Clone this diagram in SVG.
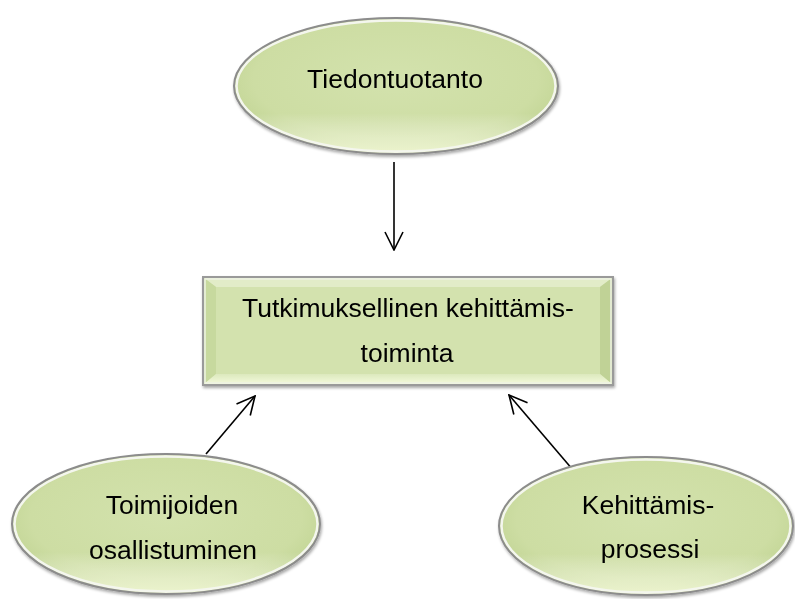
<svg xmlns="http://www.w3.org/2000/svg" width="795" height="599" viewBox="0 0 795 599">
  <defs>
    <radialGradient id="eg" cx="0.5" cy="0.45" r="0.55">
      <stop offset="0" stop-color="#d3e2ad"/>
      <stop offset="0.8" stop-color="#cddda3"/>
      <stop offset="1" stop-color="#c2d595"/>
    </radialGradient>
    <linearGradient id="hl" x1="0" y1="0" x2="0" y2="1">
      <stop offset="0" stop-color="#ffffff" stop-opacity="0"/>
      <stop offset="0.7" stop-color="#ffffff" stop-opacity="0"/>
      <stop offset="1" stop-color="#fbffe0" stop-opacity="0.75"/>
    </linearGradient>
    <linearGradient id="bot" x1="0" y1="0" x2="0" y2="1">
      <stop offset="0" stop-color="#dce9bd"/>
      <stop offset="1" stop-color="#f4f9dc"/>
    </linearGradient>
    <marker id="ah" viewBox="0 0 20 20" refX="19" refY="10" markerWidth="20" markerHeight="20" markerUnits="userSpaceOnUse" orient="auto">
      <path d="M1,1 L19,10 L1,19" fill="none" stroke="#000" stroke-width="1.6"/>
    </marker>
    <filter id="sh" x="-10%" y="-10%" width="120%" height="125%">
      <feGaussianBlur in="SourceAlpha" stdDeviation="1.5"/>
      <feOffset dx="1" dy="2"/>
      <feComponentTransfer><feFuncA type="linear" slope="0.35"/></feComponentTransfer>
      <feMerge><feMergeNode/><feMergeNode in="SourceGraphic"/></feMerge>
    </filter>
  </defs>
  <style>
    .lbl { font-family: "Liberation Sans", Arial, sans-serif; font-size: 26.5px; fill: #000; text-anchor: middle; }
    .rim { fill: none; stroke: #8c8c8c; stroke-width: 2; }
    .rimw { fill: none; stroke: #f4f6ee; stroke-width: 2.5; }
    .conn { stroke: #000; stroke-width: 1.6; fill: none; marker-end: url(#ah); }
  </style>
  <rect width="795" height="599" fill="#ffffff"/>

  <g id="connectors">
    <line class="conn" x1="394" y1="162" x2="394" y2="250"/>
    <line class="conn" x1="206" y1="454" x2="255" y2="396"/>
    <line class="conn" x1="573" y1="470" x2="509" y2="395"/>
  </g>

  <g id="node-tiedontuotanto" filter="url(#sh)">
    <ellipse cx="396" cy="86" rx="162" ry="68" fill="url(#eg)"/>
    <ellipse cx="396" cy="86" rx="162" ry="68" fill="url(#hl)"/>
    <ellipse class="rimw" cx="396" cy="86" rx="159.5" ry="65.5"/>
    <ellipse class="rim" cx="396" cy="86" rx="162" ry="68"/>
    <text class="lbl" x="395" y="88">Tiedontuotanto</text>
  </g>

  <g id="node-tutkimuksellinen" filter="url(#sh)">
    <rect x="203" y="277" width="410" height="108" fill="#d3e2ae"/>
    <polygon points="204,278 612,278 600,287 216,287" fill="#e2ecc8"/>
    <polygon points="204,278 216,287 216,374 204,384" fill="#c7d99e"/>
    <polygon points="612,278 600,287 600,374 612,384" fill="#c0d296"/>
    <polygon points="204,384 216,374 600,374 612,384" fill="url(#bot)"/>
    <rect x="203" y="277" width="410" height="108" fill="none" stroke="#9a9a9a" stroke-width="2"/>
    <rect x="205" y="279" width="406" height="104" fill="none" stroke="#eef2e4" stroke-width="1.5"/>
    <text class="lbl" x="408" y="317">Tutkimuksellinen kehittämis-</text>
    <text class="lbl" x="407" y="362">toiminta</text>
  </g>

  <g id="node-toimijoiden" filter="url(#sh)">
    <ellipse cx="166" cy="524" rx="154" ry="70" fill="url(#eg)"/>
    <ellipse cx="166" cy="524" rx="154" ry="70" fill="url(#hl)"/>
    <ellipse class="rimw" cx="166" cy="524" rx="151.5" ry="67.5"/>
    <ellipse class="rim" cx="166" cy="524" rx="154" ry="70"/>
    <text class="lbl" x="172" y="514">Toimijoiden</text>
    <text class="lbl" x="173" y="559">osallistuminen</text>
  </g>

  <g id="node-kehittamisprosessi" filter="url(#sh)">
    <ellipse cx="646" cy="526" rx="147" ry="69" fill="url(#eg)"/>
    <ellipse cx="646" cy="526" rx="147" ry="69" fill="url(#hl)"/>
    <ellipse class="rimw" cx="646" cy="526" rx="144.5" ry="66.5"/>
    <ellipse class="rim" cx="646" cy="526" rx="147" ry="69"/>
    <text class="lbl" x="648" y="514">Kehittämis-</text>
    <text class="lbl" x="650" y="558">prosessi</text>
  </g>
</svg>
